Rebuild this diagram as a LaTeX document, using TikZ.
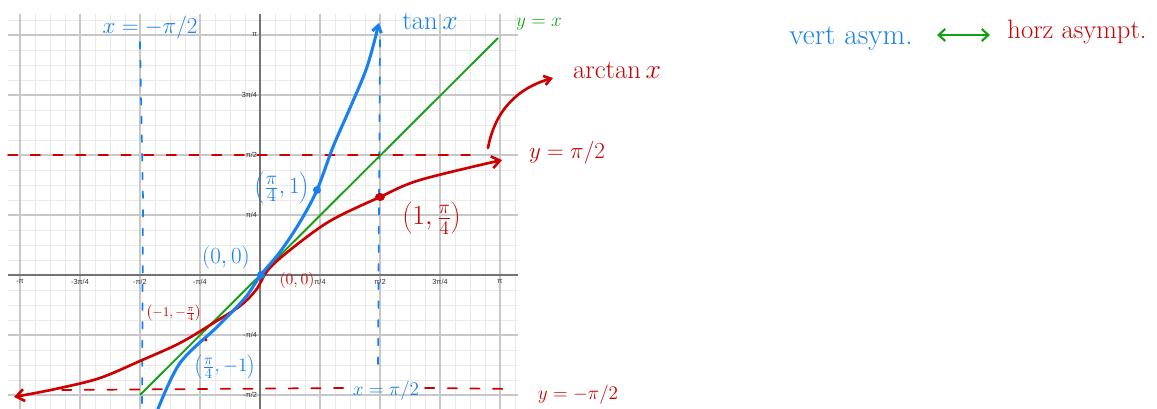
\documentclass[tikz,border=0pt]{standalone}
\usepackage{fontspec}
\newfontfamily\tickfont{Liberation Sans}
\usetikzlibrary{arrows.meta}
\definecolor{hblue}{RGB}{24,128,240}
\definecolor{hred}{RGB}{204,0,0}
\definecolor{hgreen}{RGB}{20,160,20}
\definecolor{gminor}{RGB}{234,234,234}
\definecolor{gmajor}{RGB}{200,200,200}
\definecolor{gaxis}{RGB}{115,115,115}
\begin{document}
\begin{tikzpicture}[x=0.75pt,y=-0.75pt,
  minorline/.style={gminor,line width=0.6pt},
  majorline/.style={gmajor,line width=0.8pt},
  axisline/.style={gaxis,line width=1pt},
  ticklab/.style={text=black!80,font=\tickfont\fontsize{5.5}{6}\selectfont,inner sep=0.5pt},
  bluepen/.style={hblue,line width=2.3pt,line cap=round,line join=round},
  redpen/.style={hred,line width=2pt,line cap=round,line join=round},
  greenpen/.style={hgreen,line width=1.4pt},
  barb/.style={-{Straight Barb[length=5pt,width=7pt]}},
  bluedash/.style={hblue,line width=1.3pt,line cap=round,dash pattern=on 5pt off 9pt},
  reddash/.style={hred,line width=1.3pt,line cap=round,dash pattern=on 7pt off 10pt},
  bluetext/.style={text=hblue,inner sep=0pt},
  redtext/.style={text=hred,inner sep=0pt},
  greentext/.style={text=hgreen,inner sep=0pt}
]
\useasboundingbox (0,0) rectangle (1157,409);
\fill[white] (0,0) rectangle (1157,409);
% grid
\begin{scope}
\clip (8,14) rectangle (518,409);
\foreach \i in {0,...,33} \draw[minorline] ({20+15*\i},14) -- ({20+15*\i},409);
\foreach \j in {0,...,25} \draw[minorline] (8,{20+15*\j}) -- (518,{20+15*\j});
\foreach \i in {0,...,8} \draw[majorline] ({20+60*\i},14) -- ({20+60*\i},409);
\foreach \j in {0,...,6} \draw[majorline] (8,{35+60*\j}) -- (518,{35+60*\j});
\draw[axisline] (8,275) -- (518,275);
\draw[axisline] (260,14) -- (260,409);
\end{scope}
% tick labels
\node[ticklab] (xl1) at (20,282) {-π};
\node[ticklab] (xl2) at (80,282) {-3π/4};
\node[ticklab] (xl3) at (140,282) {-π/2};
\node[ticklab] (xl4) at (200,282) {-π/4};
\node[ticklab] (xl5) at (256,282) {0};
\node[ticklab] (xl6) at (320,282) {π/4};
\node[ticklab] (xl7) at (380,282) {π/2};
\node[ticklab] (xl8) at (440,282) {3π/4};
\node[ticklab] (xl9) at (500,282) {π};
\node[ticklab,anchor=east] (yl1) at (258,35) {π};
\node[ticklab,anchor=east] (yl2) at (258,95) {3π/4};
\node[ticklab,anchor=east] (yl3) at (258,155) {π/2};
\node[ticklab,anchor=east] (yl4) at (258,215) {π/4};
\node[ticklab,anchor=east] (yl5) at (258,335) {-π/4};
\node[ticklab,anchor=east] (yl6) at (258,395) {-π/2};
% asymptotes
\draw[bluedash] (140,42) -- (143,200) -- (142,409);
\draw[bluedash] (380,40) -- (379,200) -- (378,370);
\draw[reddash] (8,155) -- (470,155);
\draw[reddash] (62,390) -- (345,388);
\draw[reddash] (425,388) -- (512,389);
% y = x
\draw[greenpen] (140,395) -- (498,38);
% arctan
\draw[redpen,{Straight Barb[length=6pt,width=9pt]}-{Straight Barb[length=6pt,width=9pt]}] plot[smooth,tension=0.55] coordinates {(14,397) (60,388) (100,378) (140,361) (180,343) (215,322) (240,306) (256,290) (268,270) (290,250) (330,221) (380,197) (420,180) (502,160)};
% tan
\draw[bluepen,barb] plot[smooth,tension=0.55] coordinates {(158,409) (180,363) (217,327) (245,298) (260,276) (280,252) (300,222) (317,190) (333,147) (350,108) (367,67) (379,23)};
% dots
\fill[hblue] (317,190) circle (4);
\fill[hblue] (261,275) circle (4);
\fill[hred] (380,197) ellipse (5 and 4);
\fill[hred] (206,340) circle (1.6);
% labels
\node[bluetext,font=\fontsize{17}{19}\selectfont] (lva) at (150,28) {$x=-\pi/2$};
\node[bluetext,font=\fontsize{20}{22}\selectfont] (ltan) at (430,21) {$\tan x$};
\node[greentext,font=\fontsize{14}{16}\selectfont] (lyx) at (539,24) {$y=x$};
\node[redtext,font=\fontsize{20}{22}\selectfont] (larc) at (617,70) {$\arctan x$};
\node[redtext,font=\fontsize{16}{18}\selectfont] (lhp) at (567,153) {$y=\pi/2$};
\node[bluetext,font=\fontsize{19}{21}\selectfont] (lp1) at (282,188) {$\left(\frac{\pi}{4},1\right)$};
\node[redtext,font=\fontsize{22}{24}\selectfont] (lp2) at (432,218) {$\left(1,\frac{\pi}{4}\right)$};
\node[bluetext,font=\fontsize{17}{19}\selectfont] (lo1) at (226,258) {$(0,0)$};
\node[redtext,font=\fontsize{13}{15}\selectfont] (lo2) at (297,281) {$(0,0)$};
\node[redtext,font=\fontsize{10}{12}\selectfont] (lp3) at (174,313) {$\bigl(-1,-\frac{\pi}{4}\bigr)$};
\node[bluetext,font=\fontsize{15}{17}\selectfont] (lp4) at (225,367) {$\left(\frac{\pi}{4},-1\right)$};
\node[bluetext,font=\fontsize{15}{17}\selectfont] (lvb) at (386,391) {$x=\pi/2$};
\node[redtext,font=\fontsize{15}{17}\selectfont] (lhb) at (578,395) {$y=-\pi/2$};
\node[bluetext,font=\fontsize{22}{24}\selectfont] (lvert) at (851,38) {vert asym.};
\node[redtext,font=\fontsize{20}{22}\selectfont] (lhorz) at (1077,32) {horz asympt.};
\coordinate (ga) at (937,35);
\coordinate (gb) at (990,35);
\draw[hgreen,line width=1.6pt,{Straight Barb[length=5pt,width=9pt]}-{Straight Barb[length=5pt,width=9pt]}] (ga) -- (gb);
% pointer arrow
\coordinate (pstart) at (488,148);
\coordinate (pend) at (553,78);
\draw[redpen,barb] (pstart) .. controls (495,110) and (518,88) .. (pend);
\end{tikzpicture}
\end{document}
